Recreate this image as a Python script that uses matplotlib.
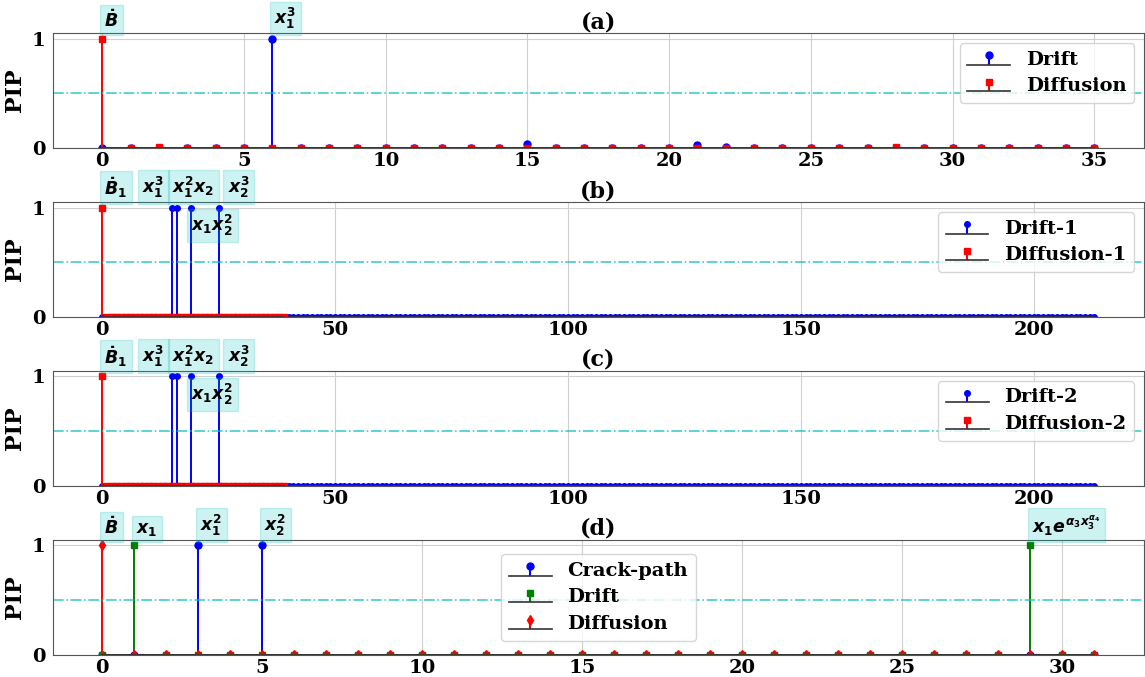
import numpy as np
import matplotlib
matplotlib.use("Agg")
import matplotlib.pyplot as plt

plt.rcParams['font.family'] = 'DejaVu Serif'
plt.rcParams['font.weight'] = 'bold'
plt.rcParams['mathtext.fontset'] = 'custom'
plt.rcParams['mathtext.it'] = 'DejaVu Sans:italic:bold'
plt.rcParams['mathtext.rm'] = 'DejaVu Sans:bold'
plt.rcParams['mathtext.bf'] = 'DejaVu Sans:bold'

# (a) single-variable model: PIP per library term
drift_a = np.zeros(36)
drift_a[6] = 1.0
drift_a[15] = 0.04
drift_a[21] = 0.03
drift_a[22] = 0.01
diff_a = np.zeros(36)
diff_a[0] = 1.0
diff_a[2] = 0.01
diff_a[28] = 0.01

# (b)/(c) two-state model
drift_1 = np.zeros(214)
drift_1[[15, 16, 19, 25]] = 1.0
diff_1 = np.zeros(40)
diff_1[0] = 1.0
drift_2 = np.zeros(214)
drift_2[[15, 16, 19, 25]] = 1.0
diff_2 = np.zeros(40)
diff_2[0] = 1.0

# (d) crack-path model
crack_d = np.zeros(32)
crack_d[[3, 5]] = 1.0
drift_d = np.zeros(32)
drift_d[[1, 29]] = 1.0
diff_d = np.zeros(32)
diff_d[0] = 1.0

# term labels: (x, y, text, va)
labels_a = [(0, 1.07, r'$\dot{B}$', 'bottom'), (6, 1.07, r'$x_1^3$', 'bottom')]
labels_bc = [(0, 1.07, r'$\dot{B}_1$', 'bottom'), (8.1, 1.07, r'$x_1^3$', 'bottom'),
             (14.5, 1.07, r'$x_1^2x_2$', 'bottom'), (26.5, 1.07, r'$x_2^3$', 'bottom'),
             (18.6, 0.95, r'$x_1x_2^2$', 'top')]
labels_d = [(0, 1.07, r'$\dot{B}$', 'bottom'), (1, 1.07, r'$x_1$', 'bottom'),
            (3, 1.07, r'$x_1^2$', 'bottom'), (5, 1.07, r'$x_2^2$', 'bottom'),
            (29, 1.07, r'$x_1e^{\alpha_3x_3^{\alpha_4}}$', 'bottom')]


def stem(ax, y, color, marker, label, ms=5):
    mk, st, bl = ax.stem(np.arange(len(y)), y, linefmt='-', markerfmt=marker, basefmt='k-', label=label)
    plt.setp(st, color=color, linewidth=1.4)
    plt.setp(mk, color=color, markersize=ms)
    plt.setp(bl, color='#333333', linewidth=1.2)


def style(ax, title, labels, loc='upper right'):
    ax.set_ylim(0, 1.05)
    ax.set_yticks([0, 1])
    ax.axhline(0.5, color='c', linestyle='-.', linewidth=1.2, alpha=0.75)
    ax.grid(True, color='#d0d0d0', linewidth=0.8)
    ax.set_axisbelow(True)
    for s in ax.spines.values():
        s.set_color('#555555')
    ax.tick_params(length=0, labelsize=14, pad=5)
    ax.tick_params(axis='x', pad=3)
    ax.set_ylabel('PIP', fontsize=16, fontweight='bold', labelpad=4)
    ax.set_title(title, fontsize=16, fontweight='bold', pad=3)
    ax.legend(loc=loc, fontsize=14, handlelength=2.2, labelspacing=0.45)
    for x, y, s, va in labels:
        ax.annotate(s, xy=(x, y), xytext=(1.5, 0), textcoords='offset points', ha='left', va=va,
                    fontsize=12.5, annotation_clip=False,
                    bbox=dict(boxstyle='square,pad=0.25', fc='c', ec='c', alpha=0.2))


fig, axs = plt.subplots(4, 1, figsize=(11.45, 6.77), dpi=100)
fig.subplots_adjust(left=0.046, right=0.999, top=0.951, bottom=0.033, hspace=0.472)

stem(axs[0], drift_a, 'b', 'o', 'Drift')
stem(axs[0], diff_a, 'r', 's', 'Diffusion')
style(axs[0], '(a)', labels_a)

stem(axs[1], drift_1, 'b', 'o', 'Drift-1', ms=4)
stem(axs[1], diff_1, 'r', 's', 'Diffusion-1', ms=4)
style(axs[1], '(b)', labels_bc)

stem(axs[2], drift_2, 'b', 'o', 'Drift-2', ms=4)
stem(axs[2], diff_2, 'r', 's', 'Diffusion-2', ms=4)
style(axs[2], '(c)', labels_bc)

stem(axs[3], crack_d, 'b', 'o', 'Crack-path')
stem(axs[3], drift_d, 'g', 's', 'Drift')
stem(axs[3], diff_d, 'r', 'd', 'Diffusion')
style(axs[3], '(d)', labels_d, loc='center')

fig.savefig('out.png', dpi=100)
